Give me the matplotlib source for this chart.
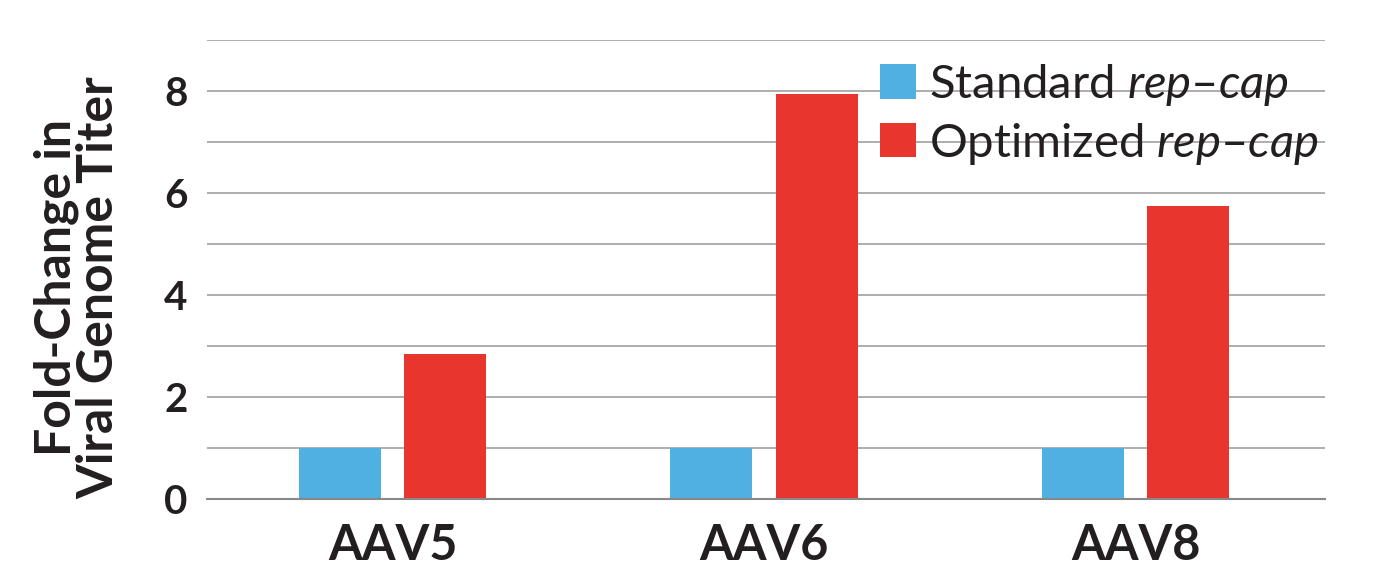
import matplotlib
matplotlib.use("Agg")
import matplotlib.pyplot as plt
import numpy as np
from matplotlib.ticker import MultipleLocator

plt.rcParams['font.family'] = ['Lato', 'DejaVu Sans']
plt.rcParams['mathtext.fontset'] = 'custom'
plt.rcParams['mathtext.rm'] = 'Lato'
plt.rcParams['mathtext.it'] = 'Lato:italic'

# data
groups = ['AAV5', 'AAV6', 'AAV8']
standard = [1.0, 1.0, 1.0]
optimized = [2.84, 7.94, 5.74]
y_ticks = [0, 2, 4, 6, 8]
series_names = ['Standard $\\mathit{rep–cap}$', 'Optimized $\\mathit{rep–cap}$']

blue = '#50B0E2'
red = '#E8352E'
ink = '#231f20'

fig = plt.figure(figsize=(13.85, 5.82), dpi=100)
ax = fig.add_axes([207/1385, 1 - 499/582, (1325-207)/1385, (499-40)/582])

x = np.arange(len(groups))
w = 0.221
b1 = ax.bar(x - 0.142, standard, w, color=blue, zorder=3)
b2 = ax.bar(x + 0.142, optimized, w, color=red, zorder=3)

ax.set_xlim(-0.5, 2.51)
ax.set_ylim(0, 9)
ax.set_yticks(y_ticks)
ax.yaxis.set_minor_locator(MultipleLocator(1))
ax.grid(axis='y', which='both', color='#a0a0a0', linewidth=1.2, zorder=0)
ax.set_xticks(x)
ax.set_xticklabels(groups, fontsize=35, fontweight='bold', color=ink)
ax.tick_params(axis='x', length=0, pad=17)
ax.tick_params(axis='y', which='both', length=0, pad=14, labelsize=29, labelcolor=ink)
for lab in ax.get_yticklabels():
    lab.set_fontweight('bold')

for s in ['top', 'right', 'left']:
    ax.spines[s].set_visible(False)
ax.spines['bottom'].set_color('#888888')
ax.spines['bottom'].set_linewidth(1.5)
ax.spines['bottom'].set_zorder(4)

ax.set_ylabel('Fold-Change in\nViral Genome Titer', fontsize=36, fontweight='bold',
              color=ink, linespacing=0.93)
ax.yaxis.set_label_coords((121 - 207) / 1118, (499 - 288) / 459)

leg = ax.legend([b1, b2], series_names, loc='upper left', bbox_to_anchor=(880/1385, 1 - 62/582),
                bbox_transform=fig.transFigure, frameon=False, fontsize=34,
                handlelength=0.76, handleheight=0.74, handletextpad=0.28, labelspacing=0.27,
                borderpad=0, borderaxespad=0)
for t in leg.get_texts():
    t.set_color(ink)

fig.savefig('out.png', dpi=100)
